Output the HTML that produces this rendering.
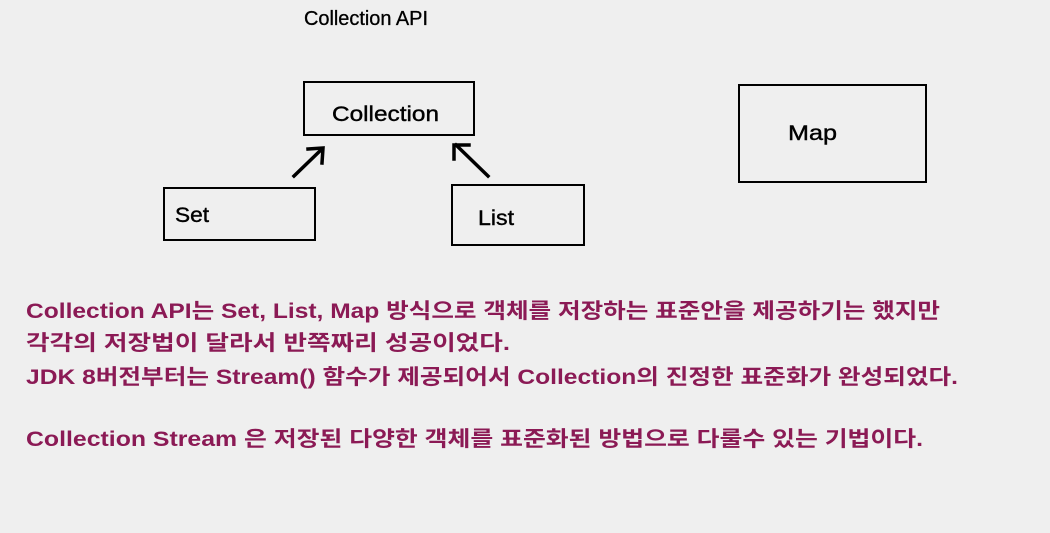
<!DOCTYPE html>
<html><head><meta charset="utf-8"><style>
html,body{margin:0;padding:0;background:#efefef;}
svg{display:block;}
text{font-family:"Liberation Sans","Noto Sans CJK KR",sans-serif;}
</style></head><body>
<svg width="1050" height="533" viewBox="0 0 1050 533" xmlns="http://www.w3.org/2000/svg">
<rect width="1050" height="533" fill="#efefef"/>
<text x="304" y="25" font-size="20" fill="#000" stroke="#000" stroke-width="0.3" textLength="124" lengthAdjust="spacingAndGlyphs">Collection API</text>
<g fill="none" stroke="#000" stroke-width="2">
<rect x="304" y="82" width="170" height="53"/>
<rect x="164" y="188" width="151" height="52"/>
<rect x="452" y="185" width="132" height="60"/>
<rect x="739" y="85" width="187" height="97"/>
</g>
<g stroke="#000" stroke-width="3.5" fill="none" stroke-linecap="square">
<line x1="294" y1="176" x2="322" y2="149"/>
<polyline points="308,149 323,148 322,163"/>
<line x1="488" y1="176" x2="456" y2="145"/>
<polyline points="454,159 454,145 469,145"/>
</g>
<g font-size="21" fill="#000" stroke="#000" stroke-width="0.4">
<text x="332" y="121" textLength="107" lengthAdjust="spacingAndGlyphs">Collection</text>
<text x="175" y="222" textLength="34" lengthAdjust="spacingAndGlyphs">Set</text>
<text x="478" y="225" textLength="36" lengthAdjust="spacingAndGlyphs">List</text>
<text x="788" y="140" textLength="49" lengthAdjust="spacingAndGlyphs">Map</text>
</g>
<g font-size="21" fill="#8b1a55" font-weight="bold">
<text x="26" y="318" textLength="914" lengthAdjust="spacingAndGlyphs">Collection API는 Set, List, Map 방식으로 객체를 저장하는 표준안을 제공하기는 했지만</text>
<text x="26" y="350" textLength="484" lengthAdjust="spacingAndGlyphs">각각의 저장법이 달라서 반쪽짜리 성공이었다.</text>
<text x="26" y="384" textLength="932" lengthAdjust="spacingAndGlyphs">JDK 8버전부터는 Stream() 함수가 제공되어서 Collection의 진정한 표준화가 완성되었다.</text>
<text x="26" y="446" textLength="897" lengthAdjust="spacingAndGlyphs">Collection Stream 은 저장된 다양한 객체를 표준화된 방법으로 다룰수 있는 기법이다.</text>
</g>
</svg>
</body></html>
